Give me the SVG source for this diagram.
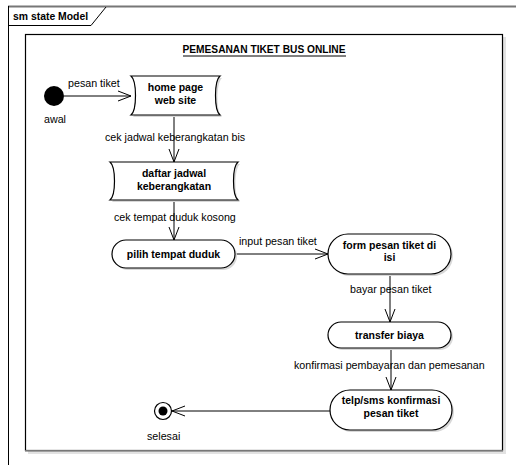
<svg xmlns="http://www.w3.org/2000/svg" width="516" height="465" viewBox="0 0 516 465">
<style>
.lbl{font-family:"Liberation Sans",Arial,sans-serif;font-size:10.7px;fill:#000}
.nt{font-family:"Liberation Sans",Arial,sans-serif;font-size:10.5px;font-weight:bold;fill:#000;text-anchor:middle}
.node{fill:#fff;stroke:#000;stroke-width:1.2}
.shadow{fill:#d8d8d8;stroke:none}
.edge{fill:none;stroke:#000;stroke-width:1}
</style>
<defs>
<marker id="arr" viewBox="0 0 13 12" refX="13" refY="6" markerWidth="13" markerHeight="12" orient="auto" markerUnits="userSpaceOnUse">
<path d="M0,1 L13,6 L0,11" fill="none" stroke="#000" stroke-width="1"/>
</marker>
</defs>
<rect width="516" height="465" fill="#fff"/>
<g id="frame">
<line x1="8" y1="6.5" x2="516" y2="6.5" stroke="#777" stroke-width="2"/>
<line x1="8.5" y1="6" x2="8.5" y2="465" stroke="#000" stroke-width="1"/>
<path d="M8,25.5 H91 L106,7" fill="none" stroke="#000" stroke-width="1"/>
<text x="13" y="19.5" style="font-family:'Liberation Sans',Arial,sans-serif;font-size:10.4px;font-weight:bold">sm state Model</text>
</g>
<g id="region">
<rect x="28" y="37" width="478" height="417" fill="#e2e2e2"/>
<rect x="25.5" y="34.5" width="477" height="416" fill="#fff" stroke="#000" stroke-width="1.2"/>
<line x1="25" y1="450.8" x2="503" y2="450.8" stroke="#777" stroke-width="1.6"/>
<text x="264" y="53" text-anchor="middle" style="font-family:'Liberation Sans',Arial,sans-serif;font-size:10.2px;font-weight:bold">PEMESANAN TIKET BUS ONLINE</text>
<line x1="183" y1="56" x2="346" y2="56" stroke="#000" stroke-width="1"/>
</g>
<g id="connectors">
<line class="edge" x1="64" y1="96" x2="131" y2="96" marker-end="url(#arr)"/>
<text class="lbl" x="68" y="87">pesan tiket</text>
<line class="edge" x1="174" y1="115" x2="174" y2="162" marker-end="url(#arr)"/>
<text class="lbl" x="105" y="141">cek jadwal keberangkatan bis</text>
<line class="edge" x1="174" y1="200" x2="174" y2="240" marker-end="url(#arr)"/>
<text class="lbl" x="114" y="221">cek tempat duduk kosong</text>
<line class="edge" x1="235" y1="254" x2="328" y2="254" marker-end="url(#arr)"/>
<text class="lbl" x="239" y="245">input pesan tiket</text>
<line class="edge" x1="390" y1="274" x2="390" y2="322" marker-end="url(#arr)"/>
<text class="lbl" x="350" y="293">bayar pesan tiket</text>
<line class="edge" x1="391" y1="348" x2="391" y2="390" marker-end="url(#arr)"/>
<text class="lbl" x="294" y="369">konfirmasi pembayaran dan pemesanan</text>
<line class="edge" x1="330" y1="411" x2="172" y2="411" marker-end="url(#arr)"/>
</g>
<g id="awal">
<circle cx="54" cy="96" r="10" fill="#000"/>
<text class="lbl" x="44" y="123">awal</text>
</g>
<g id="home">
<path class="shadow" d="M133,78 H222 C216,83 216,112 222,117 H133 C139,112 139,83 133,78 Z"/>
<path class="node" d="M131,76 H220 C214,81 214,110 220,115 H131 C137,110 137,81 131,76 Z"/>
<text class="nt" x="175.5" y="91">home page</text>
<text class="nt" x="175.5" y="104">web site</text>
</g>
<g id="daftar">
<path class="shadow" d="M112,164 H240 C234,169 234,197 240,202 H112 C118,197 118,169 112,164 Z"/>
<path class="node" d="M110,162 H238 C232,167 232,195 238,200 H110 C116,195 116,167 110,162 Z"/>
<text class="nt" x="174" y="177">daftar jadwal</text>
<text class="nt" x="174" y="190">keberangkatan</text>
</g>
<g id="pilih">
<rect class="shadow" x="114" y="242" width="123" height="28" rx="14"/>
<rect class="node" x="112" y="240" width="123" height="28" rx="14"/>
<text class="nt" x="173.5" y="258">pilih tempat duduk</text>
</g>
<g id="form">
<rect class="shadow" x="330" y="236" width="123" height="40" rx="20"/>
<rect class="node" x="328" y="234" width="123" height="40" rx="20"/>
<text class="nt" x="389.5" y="248.5">form pesan tiket di</text>
<text class="nt" x="389.5" y="261">isi</text>
</g>
<g id="transfer">
<rect class="shadow" x="330" y="324" width="123" height="26" rx="13"/>
<rect class="node" x="328" y="322" width="123" height="26" rx="13"/>
<text class="nt" x="389.5" y="339">transfer biaya</text>
</g>
<g id="telp">
<rect class="shadow" x="332" y="392" width="122" height="40" rx="20"/>
<rect class="node" x="330" y="390" width="122" height="40" rx="20"/>
<text class="nt" x="391" y="403.5">telp/sms konfirmasi</text>
<text class="nt" x="391" y="417">pesan tiket</text>
</g>
<g id="selesai">
<circle cx="163" cy="411" r="8.5" fill="#fff" stroke="#000" stroke-width="1.2"/>
<circle cx="163" cy="411" r="4.5" fill="#000"/>
<text class="lbl" x="147" y="440">selesai</text>
</g>
</svg>
